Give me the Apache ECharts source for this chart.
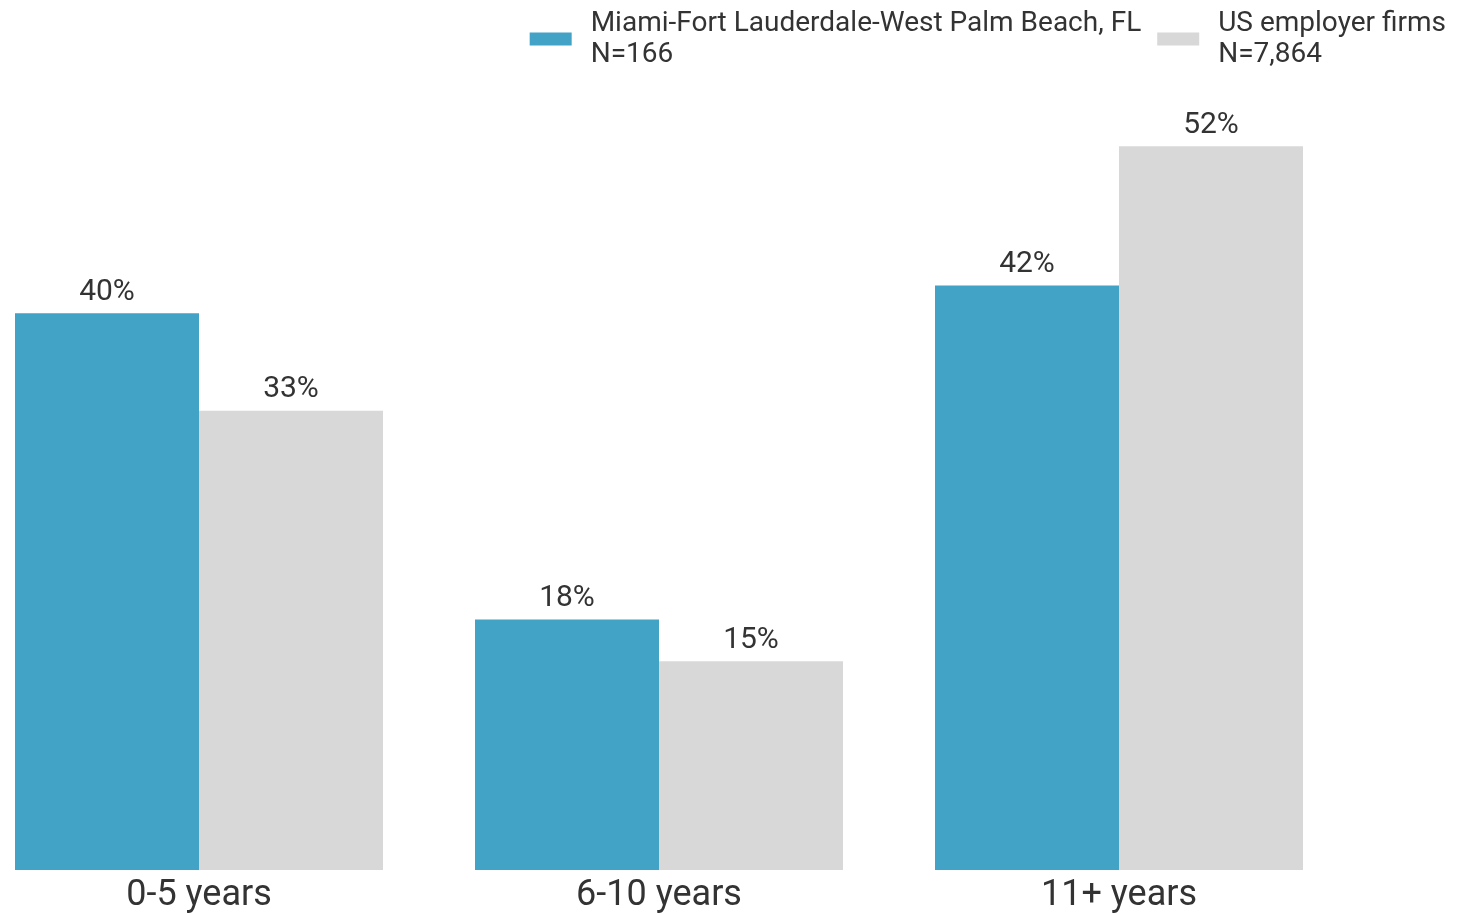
<!DOCTYPE html>
<html>
<head>
<meta charset="utf-8">
<script src="https://cdn.jsdelivr.net/npm/echarts@6/dist/echarts.min.js"></script>
<style>
  html, body { margin: 0; padding: 0; background: #fff; overflow: hidden; }
  /* the first band starts left of the page edge, so shift the canvas */
  #chart { width: 1491px; height: 914px; margin-left: -31px; }
</style>
</head>
<body>
<div id="chart"></div>
<script>
var categories = ['0-5 years', '6-10 years', '11+ years'];
var seriesNames = ['Miami-Fort Lauderdale-West Palm Beach, FL\nN=166', 'US employer firms\nN=7,864'];
var miamiValues = [40, 18, 42];
var usValues = [33, 15, 52];

var myChart = echarts.init(document.getElementById('chart'));
var labelStyle = {
  show: true,
  position: 'top',
  distance: 6,
  formatter: '{c}%',
  color: '#333',
  fontSize: 30,
  fontFamily: 'Roboto'
};
var option = {
  textStyle: { fontFamily: 'Roboto' },
  legend: {
    right: 9,
    top: 3,
    itemWidth: 42,
    itemHeight: 13,
    itemGap: 16,
    icon: 'rect',
    textStyle: {
      color: '#333',
      fontSize: 28,
      lineHeight: 31,
      fontFamily: 'Roboto',
      padding: [0, 0, 0, 14]
    },
    data: seriesNames
  },
  grid: {
    left: 0,
    right: 111,
    top: 35,
    bottom: 44
  },
  xAxis: {
    type: 'category',
    data: categories,
    axisTick: { show: false },
    axisLine: { show: false },
    axisLabel: { color: '#333', fontSize: 36, margin: 8, fontFamily: 'Roboto' }
  },
  yAxis: {
    type: 'value',
    min: 0,
    max: 60,
    show: false,
    splitLine: { show: false }
  },
  series: [
    {
      name: seriesNames[0],
      type: 'bar',
      data: miamiValues,
      barGap: '0%',
      barCategoryGap: '20%',
      itemStyle: { color: '#42a3c7' },
      label: labelStyle
    },
    {
      name: seriesNames[1],
      type: 'bar',
      data: usValues,
      itemStyle: { color: '#d8d8d8' },
      label: labelStyle
    }
  ]
};
myChart.setOption(option);
</script>
</body>
</html>
